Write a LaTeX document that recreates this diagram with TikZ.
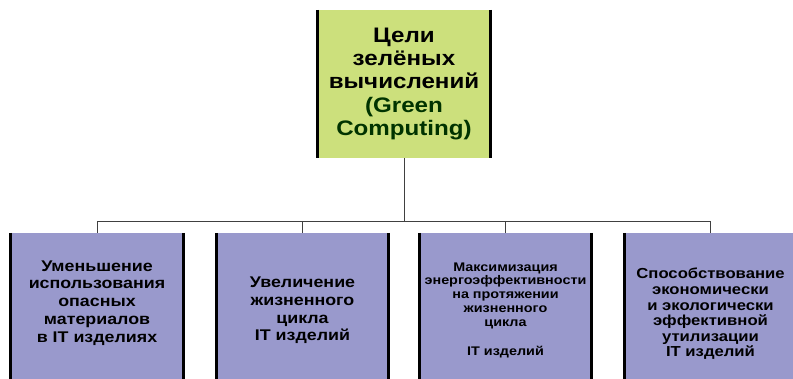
\documentclass[tikz,border=0pt]{standalone}
\usepackage{fontspec}
\setmainfont[FakeStretch=1.15]{Liberation Sans}
\definecolor{topfill}{HTML}{CCE07C}
\definecolor{boxfill}{HTML}{9999CC}
\definecolor{darkgreen}{HTML}{003300}
\definecolor{linec}{HTML}{404040}
\begin{document}
\begin{tikzpicture}[x=1pt,y=-1pt,
  topbox/.style={fill=topfill, minimum width=176pt, minimum height=148pt, inner sep=0pt, align=center,
    font=\bfseries\fontsize{21}{23.3}\selectfont},
  goalbox/.style={fill=boxfill, minimum width=175pt, minimum height=150pt, inner sep=0pt},
  goaltext/.style={align=center, inner sep=0pt},
  fbig/.style={font=\bfseries\fontsize{15.5}{17.8}\selectfont},
  fmid/.style={font=\bfseries\fontsize{14.5}{15.6}\selectfont},
  fsmall/.style={font=\bfseries\fontsize{12.5}{13.8}\selectfont},
  side/.style={line width=3pt, black},
  conn/.style={line width=1pt, linec}]
\clip (0,0) rectangle (793,379);
\node[topbox] (top) at (404,84) {Цели\\зелёных\\вычислений\\\textcolor{darkgreen}{(Green}\\\textcolor{darkgreen}{Computing)}};
\node[goalbox] (b1) at (97,308) {};
\node[goalbox] (b2) at (302.5,308) {};
\node[goalbox] (b3) at (505.5,308) {};
\node[goalbox] (b4) at (710.5,308) {};
\node[goaltext, fbig] (t1) at (97,303) {Уменьшение\\использования\\опасных\\материалов\\в IT изделиях};
\node[goaltext, fbig] (t2) at (302.5,310.5) {Увеличение\\жизненного\\цикла\\IT изделий};
\node[goaltext, fsmall] (t3) at (505.5,310) {Максимизация\\энергоэффективности\\на протяжении\\жизненного\\цикла\\[15pt]IT изделий};
\node[goaltext, fmid] (t4) at (710.5,314) {Способствование\\экономически\\и экологически\\эффективной\\утилизации\\IT изделий};
\foreach \n in {top,b1,b2,b3,b4}{
  \draw[side] ([xshift=1.5pt]\n.north west) -- ([xshift=1.5pt]\n.south west);
  \draw[side] ([xshift=-1.5pt]\n.north east) -- ([xshift=-1.5pt]\n.south east);
}
\coordinate (bus) at (0,222);
\draw[conn] (top.south) -- (top.south |- bus);
\draw[conn] (b1.north) -- (b1.north |- bus) -- (b4.north |- bus) -- (b4.north);
\draw[conn] (b2.north) -- (b2.north |- bus);
\draw[conn] (b3.north) -- (b3.north |- bus);
\end{tikzpicture}
\end{document}
